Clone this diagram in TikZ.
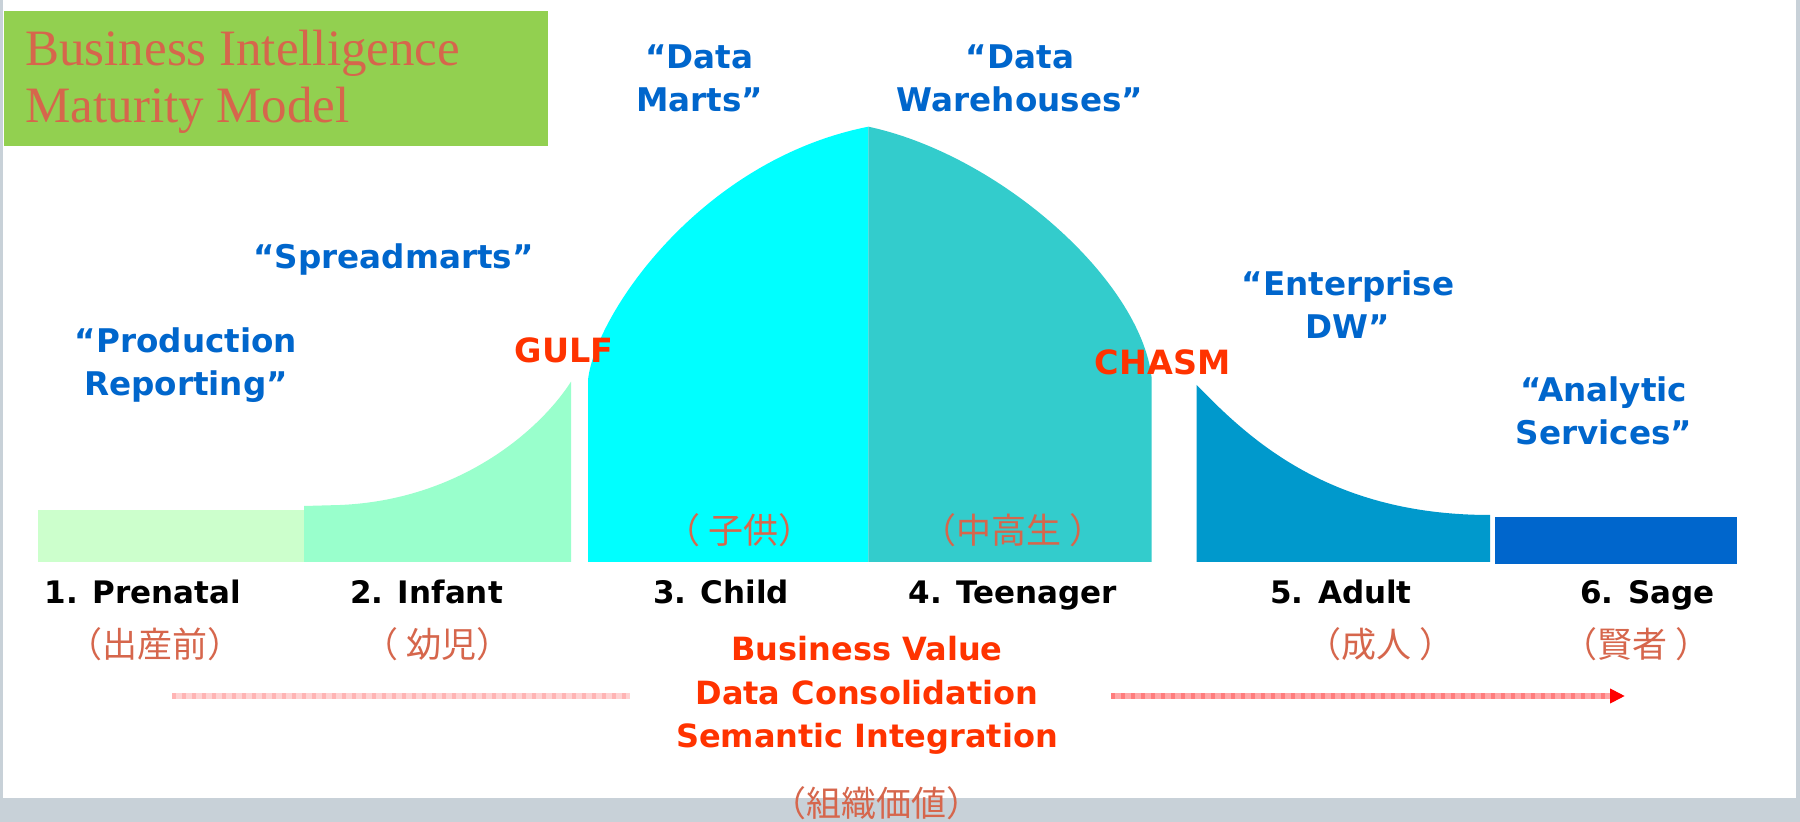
\documentclass[tikz,border=0pt]{standalone}
\usepackage{fontspec}
\usetikzlibrary{arrows.meta}
\setmainfont{DejaVu Sans}
\newfontfamily\titlefam{Liberation Serif}
\newfontfamily\lblfam{DejaVu Sans}
\newfontfamily\cjkfam{Noto Sans CJK JP}
\definecolor{salmon}{HTML}{D6664C}
\definecolor{bigreen}{HTML}{92D050}
\definecolor{framegray}{HTML}{C8D1D8}
\definecolor{blu}{HTML}{0066CC}
\definecolor{redo}{HTML}{FF3300}
\definecolor{cA}{HTML}{CCFFCC}
\definecolor{cB}{HTML}{99FFCC}
\definecolor{cC}{HTML}{00FFFF}
\definecolor{cD}{HTML}{33CCCC}
\definecolor{cE}{HTML}{0099CC}
\definecolor{cF}{HTML}{0066CC}
\definecolor{pinkL}{HTML}{FFD2D2}
\definecolor{pinkLd}{HTML}{FFB4B4}
\definecolor{pinkR}{HTML}{FFA6A6}
\definecolor{pinkRd}{HTML}{FF7C7C}
\newcommand\twol[3]{\begin{tabular}[t]{@{}#1@{}}#2\\#3\end{tabular}}
\begin{document}
\begin{tikzpicture}[x=0.5pt,y=-0.5pt,
  every node/.style={inner sep=0pt,anchor=base},
  titletext/.style={text=salmon,anchor=base west,font=\titlefam\fontsize{25.5}{28.5}\selectfont},
  bluelbl/.style={text=blu,font=\lblfam\bfseries\fontsize{16.3}{21.5}\selectfont},
  stagelbl/.style={text=black,font=\lblfam\bfseries\fontsize{15.5}{19}\selectfont},
  gaplbl/.style={text=redo,font=\lblfam\bfseries\fontsize{16.7}{20}\selectfont},
  valuelbl/.style={text=redo,font=\lblfam\bfseries\fontsize{16}{21.75}\selectfont},
  jplbl/.style={text=salmon,font=\cjkfam\fontsize{17.5}{21}\selectfont},
  arrline/.style={line width=3pt}
]
\useasboundingbox (0,0) rectangle (1800,822);
% background frame
\fill[white] (0,0) rectangle (1800,822);
\fill[framegray] (0,0) rectangle (3,822);
\fill[framegray] (1796,0) rectangle (1800,822);
\fill[framegray] (0,798) rectangle (1800,822);
% title box
\fill[bigreen] (4,11) rectangle (548,146);
\node[titletext] (title) at (25,65.7) {\twol{l}{Business Intelligence}{Maturity Model}};
% stage shapes
\fill[cA] (38,510) rectangle (304,562);
\fill[cB] (304,562) -- (304,506) -- (340,505) .. controls (460,500) and (540,430) .. (571,381.7) -- (571,562) -- cycle;
\fill[cC] (588,562) -- (588,380) .. controls (595,315) and (700,160) .. (868.4,126.7) -- (868.4,562) -- cycle;
\fill[cD] (868.4,562) -- (868.4,126.7) .. controls (1000,155) and (1140,280) .. (1151.5,376.7) -- (1151.5,562) -- cycle;
\fill[cE] (1196.7,562) -- (1196.7,385) .. controls (1250,440) and (1330,515) .. (1490,515) -- (1490,562) -- cycle;
\fill[cF] (1494.5,517) rectangle (1737,564.5);
% blue labels
\node[bluelbl] (lprod) at (186,352.7) {\twol{c}{“Production}{Reporting”}};
\node[bluelbl] (lspread) at (393.5,268.3) {“Spreadmarts”};
\node[bluelbl] (lmarts) at (699.5,68.4) {\twol{c}{“Data}{Marts”}};
\node[bluelbl] (lware) at (1020,68.4) {\twol{c}{“Data}{Warehouses”}};
\node[bluelbl] (lent) at (1348,296) {\twol{c}{“Enterprise}{DW”}};
\node[bluelbl] (lana) at (1604,401.7) {\twol{c}{“Analytic}{Services”}};
% gaps
\node[gaplbl] (gulf) at (564,362.7) {GULF};
\node[gaplbl] (chasm) at (1162.5,375) {CHASM};
% stage names
\node[stagelbl] (st1) at (143,604) {1. Prenatal};
\node[stagelbl] (st2) at (426.5,604) {2. Infant};
\node[stagelbl] (st3) at (721,604) {3. Child};
\node[stagelbl] (st4) at (1013,604) {4. Teenager};
\node[stagelbl] (st5) at (1341,604) {5. Adult};
\node[stagelbl] (st6) at (1647.5,604) {6. Sage};
% japanese labels
\node[jplbl] (j1) at (155,657.5) {（出産前）};
\node[jplbl] (j2) at (437.5,657.5) {（ 幼児）};
\node[jplbl] (j3) at (739.5,544) {（ 子供）};
\node[jplbl] (j4) at (1012.8,544) {（中高生 ）};
\node[jplbl] (j5) at (1380.5,657.5) {（成人 ）};
\node[jplbl] (j6) at (1636.5,657.5) {（賢者 ）};
\node[jplbl] (j7) at (876,817) {（組織価値）};
% value arrow
\coordinate (aL1) at (172,696);
\coordinate (aL2) at (630,696);
\coordinate (aR1) at (1111,696);
\coordinate (aR2) at (1625,696);
\draw[arrline,pinkL] (aL1) -- (aL2);
\draw[arrline,pinkLd,dash pattern=on 2pt off 3pt] (aL1) -- (aL2);
\draw[arrline,pinkR,-{Triangle[length=7.5pt,width=7pt,color=red]}] (aR1) -- (aR2);
\draw[arrline,pinkRd,dash pattern=on 2pt off 3pt,shorten >=7.5pt] (aR1) -- (aR2);
\node[valuelbl] (value) at (867,661) {\begin{tabular}[t]{@{}c@{}}Business Value\\Data Consolidation\\Semantic Integration\end{tabular}};
\end{tikzpicture}
\end{document}
